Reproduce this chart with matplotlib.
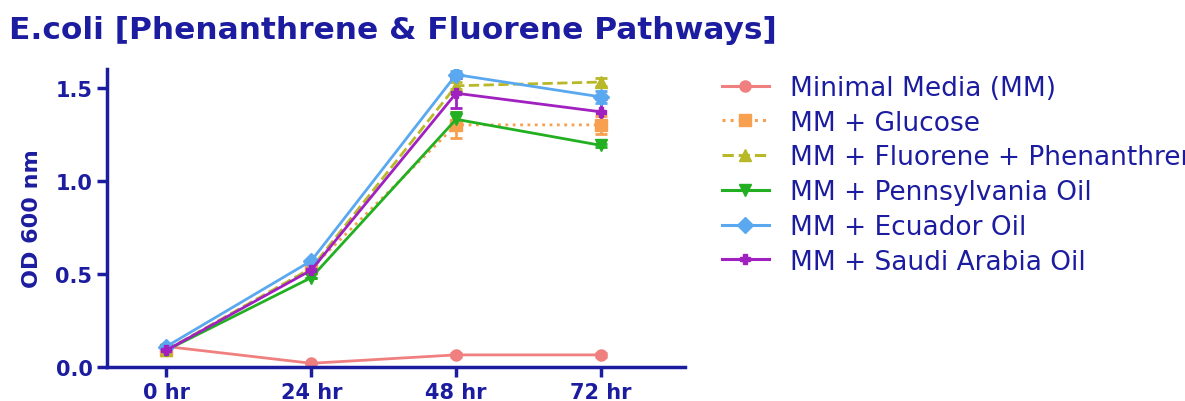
import matplotlib
matplotlib.use("Agg")
import matplotlib.pyplot as plt
from matplotlib.lines import Line2D

plt.rcParams['font.family'] = ['DejaVu Sans']

timepoints = ["0 hr", "24 hr", "48 hr", "72 hr"]
series_names = ["Minimal Media (MM)", "MM + Glucose", "MM + Fluorene + Phenanthrene",
                "MM + Pennsylvania Oil", "MM + Ecuador Oil", "MM + Saudi Arabia Oil"]
mm_vals = [0.11, 0.02, 0.065, 0.065]
glucose_vals = [0.09, 0.53, 1.30, 1.30]
fluor_vals = [0.09, 0.53, 1.51, 1.53]
penn_vals = [0.09, 0.48, 1.33, 1.19]
ecuador_vals = [0.11, 0.57, 1.57, 1.45]
saudi_vals = [0.09, 0.52, 1.47, 1.37]
mm_err = [0.0, 0.0, 0.01, 0.01]
glucose_err = [0.0, 0.0, 0.07, 0.05]
fluor_err = [0.0, 0.0, 0.02, 0.02]
penn_err = [0.0, 0.0, 0.04, 0.01]
ecuador_err = [0.0, 0.0, 0.02, 0.03]
saudi_err = [0.0, 0.01, 0.08, 0.07]

values = [mm_vals, glucose_vals, fluor_vals, penn_vals, ecuador_vals, saudi_vals]
errors = [mm_err, glucose_err, fluor_err, penn_err, ecuador_err, saudi_err]
colors = ["#f08080", "#f7a050", "#b8b828", "#22b022", "#5aa8f0", "#a020c0"]
markers = ["o", "s", "^", "v", "D", "P"]
msizes = [8, 8, 9, 9, 8, 7]
styles = ["-", ":", "--", "-", "-", "-"]

navy = "#1c1ca0"
fig = plt.figure(figsize=(11.85, 4.02), dpi=100)
ax = fig.add_axes([107/1185, 1 - 368/402, (685-107)/1185, (368-70)/402])

x = list(range(len(timepoints)))
handles = []
for v, e, c, m, ms, ls, name in zip(values, errors, colors, markers, msizes, styles, series_names):
    ax.errorbar(x, v, yerr=e, color=c, marker=m, markersize=ms, linestyle=ls,
                linewidth=2.0, capsize=4, elinewidth=2, capthick=2)
    handles.append(Line2D([0], [0], color=c, marker=m, markersize=ms, linestyle=ls,
                          linewidth=2.2, label=name))

ax.set_xlim(-0.41, 3.58)
ax.set_ylim(0, 1.6)
ax.set_xticks(x)
ax.set_xticklabels(timepoints)
ax.set_yticks([0.0, 0.5, 1.0, 1.5])
ax.set_yticklabels(["0.0", "0.5", "1.0", "1.5"])
for s in ["top", "right"]:
    ax.spines[s].set_visible(False)
for s in ["left", "bottom"]:
    ax.spines[s].set_color(navy)
    ax.spines[s].set_linewidth(2.5)
ax.tick_params(axis="both", colors=navy, width=2.5, length=7, labelsize=15, direction="out")
for lab in ax.get_xticklabels() + ax.get_yticklabels():
    lab.set_fontweight("bold")
    lab.set_color(navy)
ax.set_ylabel("OD 600 nm", fontsize=16, fontweight="bold", color=navy, labelpad=10)

fig.text(0.008, 0.925, "E.coli [Phenanthrene & Fluorene Pathways]", fontsize=22.5,
         fontweight="bold", color=navy, ha="left", va="center")

leg = fig.legend(handles=handles, loc="upper left", bbox_to_anchor=(0.589, 0.87),
                 frameon=False, fontsize=19, handlelength=1.8, labelspacing=0.33,
                 handletextpad=0.8, labelcolor=navy)

fig.savefig("out.png", dpi=100)
